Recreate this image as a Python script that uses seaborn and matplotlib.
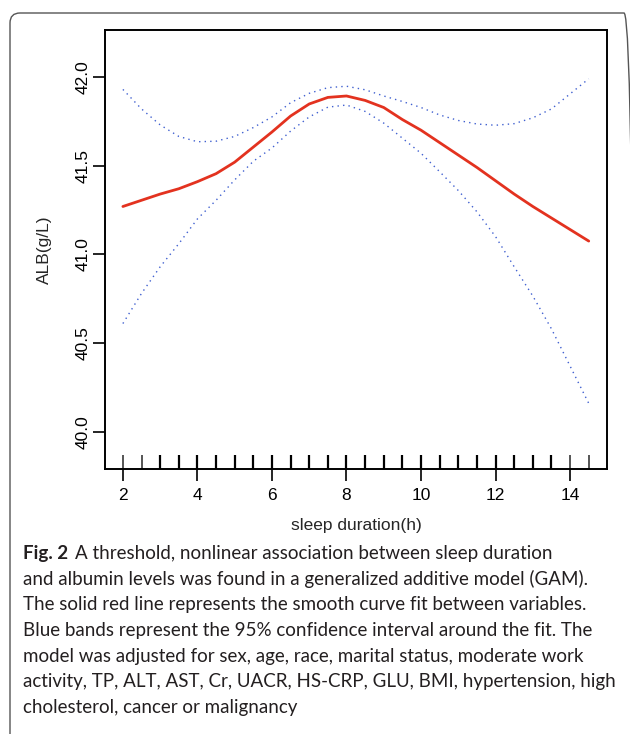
import numpy as np
import pandas as pd
import matplotlib
matplotlib.use("Agg")
import matplotlib.pyplot as plt
import seaborn as sns
from matplotlib.patches import FancyBboxPatch
from matplotlib.transforms import IdentityTransform

# Datos (GAM: duración del sueño vs albúmina)
horas_sueno = [2.0, 2.5, 3.0, 3.5, 4.0, 4.5, 5.0, 5.5, 6.0, 6.5, 7.0, 7.5, 8.0,
               8.5, 9.0, 9.5, 10.0, 10.5, 11.0, 11.5, 12.0, 12.5, 13.0, 13.5, 14.0, 14.5]
alb_ajuste = [41.27, 41.305, 41.34, 41.37, 41.41, 41.455, 41.52, 41.605, 41.69, 41.78,
              41.848, 41.885, 41.893, 41.868, 41.828, 41.76, 41.70, 41.63, 41.56, 41.49,
              41.415, 41.34, 41.27, 41.205, 41.14, 41.075]
alb_superior = [41.93, 41.82, 41.73, 41.665, 41.635, 41.638, 41.665, 41.715, 41.775, 41.855,
                41.908, 41.94, 41.948, 41.928, 41.893, 41.862, 41.828, 41.786, 41.755, 41.735,
                41.728, 41.737, 41.77, 41.82, 41.905, 41.99]
alb_inferior = [40.61, 40.78, 40.93, 41.06, 41.20, 41.305, 41.42, 41.525, 41.60, 41.695,
                41.775, 41.83, 41.842, 41.806, 41.74, 41.655, 41.57, 41.466, 41.36, 41.24,
                41.10, 40.93, 40.765, 40.58, 40.37, 40.16]

# Marcas de alfombra (rug) sobre el eje x
rug_denso = [3.0, 3.5, 4.0, 4.5, 5.0, 5.5, 6.0, 6.5, 7.0, 7.5, 8.0, 8.5, 9.0, 9.5,
             10.0, 10.5, 11.0, 11.5, 12.0, 12.5, 13.0, 13.5]
rug_escaso = [2.0, 2.5, 14.0, 14.5]

ticks_x = [2, 4, 6, 8, 10, 12, 14]
ticks_y = [40.0, 40.5, 41.0, 41.5, 42.0]

leyenda_negrita = "Fig. 2"
leyenda_lineas = [
    "A threshold, nonlinear association between sleep duration",
    "and albumin levels was found in a generalized additive model (GAM).",
    "The solid red line represents the smooth curve fit between variables.",
    "Blue bands represent the 95% confidence interval around the fit. The",
    "model was adjusted for sex, age, race, marital status, moderate work",
    "activity, TP, ALT, AST, Cr, UACR, HS-CRP, GLU, BMI, hypertension, high",
    "cholesterol, cancer or malignancy",
]

sns.set_style("white")
plt.rcParams['font.family'] = ['Liberation Sans', 'DejaVu Sans']

df = pd.DataFrame({'x': horas_sueno, 'fit': alb_ajuste,
                   'sup': alb_superior, 'inf': alb_inferior})

fig = plt.figure(figsize=(6.3, 7.34), dpi=100)
ax = fig.add_axes([105 / 630, 1 - 469 / 734, (607 - 105) / 630, (469 - 30) / 734])

azul = '#4060d0'
sns.lineplot(data=df, x='x', y='sup', ax=ax, color=azul, linewidth=1.0,
             linestyle=(0, (1, 3)))
sns.lineplot(data=df, x='x', y='inf', ax=ax, color=azul, linewidth=1.0,
             linestyle=(0, (1, 3)))
sns.lineplot(data=df, x='x', y='fit', ax=ax, color='#e3321f', linewidth=2.0)

sns.rugplot(x=rug_denso, ax=ax, height=0.032, color='black', linewidth=1.6)
sns.rugplot(x=rug_escaso, ax=ax, height=0.032, color='#555555', linewidth=1.4)

ax.set_xlim(1.52, 14.99)
ax.set_ylim(39.79, 42.265)
ax.set_xticks(ticks_x)
ax.set_yticks(ticks_y)
ax.set_yticklabels([f"{v:.1f}" for v in ticks_y], rotation=90, va='center')
ax.tick_params(axis='both', direction='out', length=8.5, width=1.2,
               labelsize=12.5, color='black', labelcolor='black',
               bottom=True, left=True)
ax.tick_params(axis='x', pad=5)
ax.tick_params(axis='y', pad=1.5)
for s in ax.spines.values():
    s.set_linewidth(1.4)
    s.set_color('black')

ax.set_xlabel('sleep duration(h)', fontsize=12.5, labelpad=11)
ax.set_ylabel('ALB(g/L)', fontsize=12.5)
ax.yaxis.set_label_coords(-0.106, 0.5)

# Marco redondeado del pie de figura
marco = FancyBboxPatch((10, -10), 624, 734 - 13 + 10,
                       boxstyle="round,pad=0,rounding_size=10",
                       transform=IdentityTransform(), fill=False,
                       ec='#555555', lw=1.0)
fig.add_artist(marco)

# Texto de la leyenda: tamaño ajustado para que la línea más ancha mida ~590 px
fuente_ley = ['Lato', 'DejaVu Sans']
fig.canvas.draw()
rend = fig.canvas.get_renderer()
anchos = []
for linea in leyenda_lineas[1:]:
    prueba = fig.text(0, 0, linea, family=fuente_ley, fontsize=12)
    anchos.append(prueba.get_window_extent(rend).width)
    prueba.remove()
tam_ley = 12 * 590 / max(anchos)

y0 = 1 - 553 / 734
paso = 25.8 / 734
t = fig.text(23 / 630, y0, leyenda_negrita, family=fuente_ley, fontsize=tam_ley,
             fontweight='bold', va='center', color='#231f20')
ancho = t.get_window_extent(rend).width
for i, linea in enumerate(leyenda_lineas):
    if i == 0:
        xpos = (23 + ancho + 7) / 630
    else:
        xpos = 23 / 630
    fig.text(xpos, y0 - i * paso, linea, family=fuente_ley, fontsize=tam_ley,
             va='center', color='#231f20')

fig.savefig('out.png', dpi=100)
